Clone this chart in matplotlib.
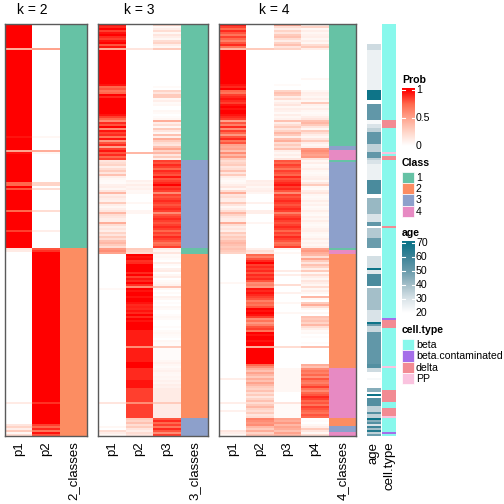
import numpy as np
import matplotlib as mpl
import matplotlib.pyplot as plt
from matplotlib.colors import LinearSegmentedColormap, ListedColormap
from matplotlib.patches import Rectangle

mpl.use("Agg")
plt.rcParams["font.family"] = ["Liberation Sans", "DejaVu Sans"]

N_ROWS = 206
nan = np.nan

# ---- k = 2 ----
K2_CLASS = [1] * 112 + [2] * 94
K2_P1 = ([1.0] * 12 + [0.45] + [1.0] * 43 + [0.95] + [1.0] * 6 + [0.5, 0.95]
         + [1.0] * 14 + [0.75, 0.75, 1.0, 0.8] + [1.0] * 10 + [0.75] + [1.0] * 9
         + [0.85] + [1.0] * 8
         + [0.15, 0.12] + [0.0] * 75 + [0.12] + [0.0] * 10
         + [0.15, 0.25, 0.1, 0.3, 0.05, 0.2])
K2_P2 = ([0.0] * 12 + [0.5] + [0.0] * 43 + [0.05] + [0.0] * 6 + [0.45, 0.05]
         + [0.0] * 14 + [0.25, 0.25, 0.0, 0.2] + [0.0] * 10 + [0.2] + [0.0] * 9
         + [0.1] + [0.0] * 8
         + [0.8, 0.88] + [1.0] * 75 + [0.88] + [1.0] * 10
         + [0.85, 0.75, 0.9, 0.7, 0.95, 0.8])

# ---- k = 3 ----
K3_CLASS = [1] * 68 + [3] * 44 + [1] * 3 + [2] * 82 + [3] * 9
K3_P1 = ([0.95, 0.9, 1, 0.85, 0.95, 1, 0.9, 0.85, 0.95, 1, 0.8, 0.95]
         + [0.45] + [1.0] * 17 + [0.95, 0.75, 0.8] + [0.7, 0.75, 1.0, 0.9]
         + [1, 1, 1, 1, 1, 1, 1, 1, 0.95, 0.85, 0.75]
         + [0.6, 0.9, 0.8, 1.0, 0.6, 0.95, 0.85, 0.9, 0.7, 0.95, 0.55, 0.8,
            0.9, 0.5, 0.85, 0.95, 0.8, 0.9, 0.75, 0.85]
         + [0.15, 0.2, 0.25, 0.1, 0.2, 0.3, 0.15, 0.35, 0.1, 0.05,
            0.03, 0.02, 0.08, 0.1, 0.05, 0.15, 0.4, 0.1, 0.15, 0.1,
            0.08, 0.3, 0.1, 0.05, 0.1, 0.15, 0.4, 0.2, 0.15, 0.1,
            0.1, 0.45, 0.2, 0.1, 0.15, 0.1, 0.25, 0.15, 0.3, 0.2,
            0.35, 0.4, 0.3, 0.2]
         + [0.55, 0.6, 0.5]
         + [0.0] * 17 + [0.04] + [0.0] * 56 + [0.15] + [0.0] * 7
         + [0.0, 0.0, 0.0, 0.0, 0.05, 0.0, 0.2, 0.1, 0.05])
K3_P2 = ([0.0] * 12 + [0.15] + [0.0] * 51 + [0.4] + [0.0] * 3
         + [0.0] * 10 + [0.08, 0.05, 0.1, 0.06, 0.08, 0.04, 0.05] + [0.0] * 4
         + [0.05] + [0.0] * 3 + [0.06, 0.06] + [0.0] * 17
         + [0.3, 0.25, 0.2]
         + [1.0, 0.95, 0.98] + [0.88, 0.9] + [1.0] * 4
         + [0.9, 1.0, 0.85, 0.95, 0.9, 1.0, 0.88] + [0.6]
         + [1.0, 0.95, 1.0, 1.0, 0.95, 1.0, 1.0, 0.95]
         + [0.9, 0.92, 0.9, 0.95, 0.9] + [1.0, 0.9, 1.0, 0.95, 1.0]
         + [1.0] * 3 + [0.93] * 8 + [0.6] + [0.93] * 7 + [1.0] * 3
         + [0.9] * 6 + [0.95] * 4 + [0.85] * 7 + [0.6] + [0.85] * 7
         + [0.3, 0.25, 0.35, 0.2, 0.3, 0.15, 0.1, 0.2, 0.15])
K3_P3 = ([0.25, 0.05, 0.1, 0.2, 0.05, 0.15, 0.1, 0.05, 0.2, 0.25, 0.1, 0.05]
         + [0.3] + [0.0] * 18 + [0.03, 0.0] + [0.25, 0.15, 0.3, 0.3]
         + [0.05, 0.1, 0.03, 0.05, 0.0, 0.0, 0.05, 0.03, 0.0, 0.02, 0.05]
         + [0.45, 0.1, 0.2, 0.05, 0.3, 0.15, 0.05, 0.35, 0.1, 0.45, 0.3, 0.2,
            0.15, 0.35, 0.5, 0.25, 0.4, 0.15, 0.3, 0.1]
         + [0.85, 0.8, 0.9, 0.85, 0.75, 0.9, 0.85, 0.8, 0.95, 0.8,
            0.85, 0.9, 1.0, 0.85, 0.9, 0.85, 0.6, 0.85, 0.8, 0.85,
            0.9, 0.85, 0.8, 0.85, 0.9, 0.85, 0.6, 0.8, 0.85, 0.9,
            0.85, 0.8, 0.85, 0.9, 0.85, 0.75, 0.85, 0.8, 0.9, 0.85,
            0.8, 0.7, 0.75, 0.85]
         + [0.1, 0.05, 0.15]
         + [0.03, 0.05, 0.02, 0.0, 0.1, 0.02, 0.0, 0.08, 0.12, 0.0, 0.05, 0.1,
            0.0, 0.03, 0.05, 0.08]
         + [0.35]
         + [0.05, 0.0, 0.03, 0.0, 0.08, 0.05, 0.0, 0.02, 0.0, 0.05, 0.03, 0.0,
            0.0, 0.02, 0.05, 0.03, 0.0, 0.0, 0.0, 0.02, 0.0, 0.03, 0.05, 0.03,
            0.02, 0.0, 0.05, 0.03, 0.02]
         + [0.3]
         + [0.02] * 6 + [0.05, 0.08, 0.05, 0.03, 0.06, 0.08, 0.05, 0.04, 0.06,
                         0.05, 0.08, 0.06, 0.1, 0.08]
         + [0.12] * 7 + [0.3] + [0.12] * 7
         + [0.8, 0.9, 0.75, 0.85, 0.7, 0.9, 0.8, 0.6, 0.85])

# ---- k = 4 ----
K4_CLASS = ([1] * 61 + [3] * 2 + [4] * 5 + [1] * 1 + [3] * 43 + [1] * 1
            + [4] * 2 + [2] * 57 + [4] * 25 + [2] * 4 + [3] * 3 + [4] * 2)
K4_P1 = ([0.95, 0.85, 0.75, 0.9, 0.8, 0.7, 0.85, 0.75, 0.65, 0.8, 0.9, 0.7]
         + [0.4] + [1.0] * 17 + [0.95, 0.9, 1.0] + [0.75, 0.7, 0.85, 0.9]
         + [0.95, 0.9, 0.85, 0.95, 1.0, 0.95, 1.0, 1.0, 0.95, 0.9, 0.85]
         + [0.5, 0.8, 0.65, 0.9, 0.6, 0.85, 0.75, 0.55, 0.8, 0.9, 0.7, 0.8, 0.5]
         + [0.45, 0.5, 0.35, 0.6, 0.4, 0.55, 0.3]
         + [0.2, 0.25, 0.3, 0.15, 0.2, 0.35, 0.15, 0.3, 0.1, 0.05,
            0.03, 0.05, 0.1, 0.15, 0.05, 0.2, 0.45, 0.15, 0.2, 0.1,
            0.1, 0.3, 0.15, 0.05, 0.1, 0.2, 0.4, 0.25, 0.15, 0.1,
            0.1, 0.45, 0.2, 0.1, 0.15, 0.1, 0.3, 0.2, 0.3, 0.25,
            0.35, 0.4, 0.35, 0.3]
         + [0.35, 0.3, 0.25]
         + [0.0] * 14 + [0.05] + [0.0] * 47 + [0.1] + [0.0] * 11 + [0.1]
         + [0.0] * 3 + [0.08] + [0.0] * 9 + [0.15, 0.1, 0.05])
K4_P2 = ([0.0] * 12 + [0.3] + [0.0] * 55
         + [0.0] * 10 + [0.1, 0.08, 0.1, 0.05, 0.08, 0.1, 0.06] + [0.0] * 4
         + [0.08] + [0.0] * 3 + [0.1, 0.1] + [0.0] * 4 + [0.06] + [0.0] * 12
         + [0.1, 0.2, 0.15]
         + [0.75, 0.65, 0.8] + [0.9, 1.0, 0.85, 0.9]
         + [0.85, 0.9, 0.8, 0.9, 0.85, 0.9, 0.8] + [0.6, 0.65, 0.55]
         + [0.95, 0.9, 0.95, 0.9, 0.85, 0.8] + [0.65, 0.75, 0.7, 0.8]
         + [1.0, 0.95, 1.0, 0.95, 0.85] + [0.6, 0.7, 0.55, 0.65, 0.8, 0.85, 0.7]
         + [1.0, 0.95, 1.0, 1.0, 0.95, 1.0, 1.0] + [0.45] + [1.0] * 8
         + [0.75, 0.6]
         + [0.45, 0.35, 0.5, 0.4, 0.3, 0.45, 0.35, 0.5, 0.4, 0.3, 0.25, 0.35,
            0.2, 0.3, 0.15, 0.25, 0.35, 0.2, 0.3, 0.4, 0.25, 0.2, 0.3, 0.15, 0.2]
         + [0.65, 0.6, 0.55, 0.6] + [0.4, 0.3, 0.45, 0.25, 0.35])
K4_P3 = ([0.5, 0.2, 0.1, 0.25, 0.15, 0.3, 0.35, 0.2, 0.1, 0.25, 0.35, 0.15]
         + [0.25] + [0.0] * 17 + [0.03, 0.0, 0.0] + [0.25, 0.35, 0.3, 0.1]
         + [0.2, 0.05, 0.1, 0.15, 0.05, 0.1, 0.08, 0.03, 0.1, 0.05, 0.08]
         + [0.35, 0.1, 0.2, 0.3, 0.15, 0.25, 0.4, 0.3, 0.1, 0.35, 0.45, 0.2, 0.3]
         + [0.2, 0.35, 0.1, 0.05, 0.1, 0.05, 0.15]
         + [0.8, 0.75, 0.85, 0.8, 0.7, 0.85, 0.8, 0.75, 0.9, 0.8,
            0.85, 0.9, 0.95, 0.85, 0.9, 0.8, 0.6, 0.85, 0.8, 0.85,
            0.9, 0.85, 0.8, 0.85, 0.9, 0.85, 0.65, 0.8, 0.85, 0.9,
            0.85, 0.8, 0.85, 0.9, 0.85, 0.75, 0.85, 0.8, 0.9, 0.85,
            0.8, 0.7, 0.75, 0.85]
         + [0.05, 0.0, 0.05]
         + [0.0] * 8 + [0.12] + [0.0] + [0.1] + [0.0] * 4 + [0.2] + [0.0] * 3
         + [0.08] + [0.0] * 4 + [0.05] + [0.0] * 4 + [0.05] + [0.0] * 16
         + [0.2] + [0.0] * 10 + [0.05] * 12 + [0.0] * 5 + [0.15] + [0.03] * 7
         + [0.5, 0.45, 0.55, 0.4, 0.5, 0.45, 0.35, 0.5, 0.4])
K4_P4 = ([0.1, 0.25, 0.05, 0.1, 0.05, 0.08, 0.1, 0.05, 0.1, 0.05, 0.2, 0.3]
         + [0.1] + [0.0] * 14 + [0.05] + [0.0] * 5 + [0.05, 0.1, 0.08, 0.05]
         + [0.1, 0.05, 0.3, 0.08, 0.05, 0.1, 0.05, 0.03, 0.05, 0.1, 0.15]
         + [0.35, 0.4, 0.3, 0.15, 0.05, 0.3, 0.2, 0.1, 0.05, 0.15, 0.3, 0.1, 0.05]
         + [0.1, 0.55, 0.6, 0.55, 0.5, 0.55, 0.15]
         + [0.05, 0.1, 0.03, 0.05, 0.1, 0.05, 0.03, 0.05, 0.08, 0.1,
            0.05, 0.15, 0.3, 0.05, 0.03, 0.1, 0.15, 0.05, 0.03, 0.05,
            0.1, 0.05, 0.08, 0.03, 0.05, 0.1, 0.05, 0.03, 0.08, 0.05,
            0.1, 0.05, 0.03, 0.05, 0.08, 0.1, 0.05, 0.03, 0.05, 0.1,
            0.05, 0.08, 0.05, 0.1]
         + [0.5, 0.55, 0.45]
         + [0.4, 0.2, 0.5, 0.3, 0.15, 0.35, 0.25, 0.1, 0.3, 0.05,
            0.2, 0.1, 0.05, 0.15, 0.1, 0.05, 0.2, 0.05, 0.1, 0.05,
            0.0, 0.4, 0.05, 0.0, 0.3, 0.45, 0.2, 0.05, 0.0, 0.05,
            0.0, 0.35, 0.3, 0.35, 0.25, 0.4, 0.2, 0.1, 0.03, 0.05,
            0.0, 0.02, 0.0, 0.0, 0.02, 0.0, 0.35, 0.0, 0.0, 0.0,
            0.0, 0.0, 0.0, 0.0, 0.0, 0.45, 0.35]
         + [0.6, 0.7, 0.65, 0.75, 0.6, 0.8, 0.7, 0.65, 0.75, 0.85, 0.7, 0.6,
            0.75, 0.8, 0.9, 0.85, 0.75, 0.8, 0.7, 0.85, 0.8, 0.75, 0.7, 0.8, 0.75]
         + [0.0, 0.02, 0.0, 0.05] + [0.1, 0.3, 0.15, 0.05, 0.2])

# ---- annotations ----
AGE = ([nan] * 10 + [32] * 3 + [25] * 20 + [70] * 5 + [nan] * 2 + [52] * 8
       + [22] * 2 + [30] * 2 + [35] * 2 + [52] * 6 + [35] * 4 + [52] * 3
       + [35] + [30] * 2 + [25] * 8 + [57] * 7 + [nan] * 2 + [42] * 8
       + [30] * 4 + [52] * 2 + [nan] + [37] * 5 + [50] * 5 + [nan] * 4
       + [31] * 6 + [70] + [28] * 2 + [57] * 6 + [nan] + [40] * 11 + [30] * 6
       + [70] + [50] + [33] * 3 + [52] * 16 + [55] * 2 + [32] * 2 + [nan] * 3
       + [22] + [nan] * 4 + [45] * 2 + [nan] + [70] + [nan] + [55] * 4
       + [35] * 3 + [55] + [35] * 2 + [70]
       + [45, 55, 30, 60, 40, 65, 35, 50])
CELL_TYPES = ["beta", "beta.contaminated", "delta", "PP"]
CELL_RUNS = [("beta", 48), ("delta", 4), ("beta", 12), ("PP", 1), ("beta", 1),
             ("delta", 2), ("beta", 33), ("delta", 1), ("beta", 45),
             ("beta.contaminated", 1), ("delta", 4), ("beta", 19), ("PP", 1),
             ("beta", 11), ("delta", 6), ("beta", 3), ("delta", 4), ("PP", 1),
             ("beta", 7), ("beta.contaminated", 1), ("beta", 1)]

CLASS_COLORS = ["#66C2A5", "#FC8D62", "#8DA0CB", "#E78AC3"]
CELL_COLORS = ["#88F8EC", "#A56EE9", "#F28B93", "#FAC3DF"]
PROB_CMAP = LinearSegmentedColormap.from_list(
    "prob", [(0, "#FFFFFF"), (0.25, "#FFD5C8"), (0.5, "#FFA48E"),
             (0.75, "#FF6A4E"), (1, "#FF0000")])
AGE_CMAP = LinearSegmentedColormap.from_list(
    "age", [(0, "#FFFFFF"), (0.2, "#D9E3E8"), (0.4, "#A4BFC9"),
            (0.6, "#6A9CAC"), (0.8, "#3E8498"), (1, "#0E7488")])
AGE_CMAP.set_bad("white")

W = H = 504


def px_axes(fig, x0, y0, x1, y1):
    return fig.add_axes([x0 / W, 1 - y1 / H, (x1 - x0) / W, (y1 - y0) / H])


def draw_panel(fig, box, probs, classes, k):
    for p in probs:
        assert len(p) == N_ROWS, len(p)
    assert len(classes) == N_ROWS, len(classes)
    ax = px_axes(fig, *box)
    mat = np.column_stack(probs)
    ext = (-0.5, k - 0.5, N_ROWS - 0.5, -0.5)
    ax.imshow(mat, cmap=PROB_CMAP, vmin=0, vmax=1, aspect="auto",
              interpolation="nearest", extent=ext)
    ax.imshow(np.array(classes)[:, None], cmap=ListedColormap(CLASS_COLORS),
              vmin=0.5, vmax=4.5, aspect="auto", interpolation="nearest",
              extent=(k - 0.5, k + 0.5, N_ROWS - 0.5, -0.5))
    ax.set_xlim(-0.5, k + 0.5)
    ax.set_ylim(N_ROWS - 0.5, -0.5)
    ax.set_yticks([])
    ax.set_xticks(range(k + 1))
    ax.set_xticklabels([f"p{i + 1}" for i in range(k)] + [f"{k}_classes"],
                       rotation=90, fontsize=9.5)
    ax.tick_params(axis="x", length=0, pad=4)
    for s in ax.spines.values():
        s.set_color("#5a5a5a")
        s.set_linewidth(1.0)
    ax.text((k - 1) / 2, 1.034, f"k = {k}", transform=ax.get_xaxis_transform(),
            ha="center", va="center", fontsize=10)
    return ax


def main():
    fig = plt.figure(figsize=(5.04, 5.04), dpi=100)

    draw_panel(fig, (5, 24, 87, 436), [K2_P1, K2_P2], K2_CLASS, 2)
    draw_panel(fig, (98, 24, 208, 436), [K3_P1, K3_P2, K3_P3], K3_CLASS, 3)
    draw_panel(fig, (219, 24, 356, 436), [K4_P1, K4_P2, K4_P3, K4_P4],
               K4_CLASS, 4)

    # age annotation
    assert len(AGE) == N_ROWS, len(AGE)
    ax_age = px_axes(fig, 367, 24, 381, 436)
    ax_age.imshow(np.ma.masked_invalid(np.array(AGE, dtype=float))[:, None],
                  cmap=AGE_CMAP, vmin=20, vmax=70, aspect="auto",
                  interpolation="nearest")
    ax_age.set_yticks([])
    ax_age.set_xticks([0])
    ax_age.set_xticklabels(["age"], rotation=90, fontsize=9.5)

    # cell type annotation
    cells = []
    for name, n in CELL_RUNS:
        cells += [CELL_TYPES.index(name)] * n
    assert len(cells) == N_ROWS, len(cells)
    ax_ct = px_axes(fig, 382, 24, 396, 436)
    ax_ct.imshow(np.array(cells)[:, None], cmap=ListedColormap(CELL_COLORS),
                 vmin=-0.5, vmax=3.5, aspect="auto", interpolation="nearest")
    ax_ct.set_yticks([])
    ax_ct.set_xticks([0])
    ax_ct.set_xticklabels(["cell.type"], rotation=90, fontsize=9.5)
    for a in (ax_age, ax_ct):
        a.tick_params(axis="x", length=0, pad=4)
        for s in a.spines.values():
            s.set_visible(False)

    # legends drawn in pixel space
    lg = fig.add_axes([0, 0, 1, 1])
    lg.set_xlim(0, W)
    lg.set_ylim(H, 0)
    lg.axis("off")
    fs = 7.6
    tx = 416

    lg.text(402, 80, "Prob", fontsize=fs, fontweight="bold", va="center")
    ys = np.linspace(88, 147, 120)
    grad = np.clip((146 - ys) / 56, 0, 1)[:, None]
    lg.imshow(grad, cmap=PROB_CMAP, vmin=0, vmax=1, aspect="auto",
              extent=(402, 415, 147, 88), interpolation="bilinear")
    for lab, y in [("1", 90), ("0.5", 118), ("0", 146)]:
        lg.text(tx, y, lab, fontsize=fs, va="center")
        lg.plot([402, 405], [y, y], color="white", lw=0.8)
        lg.plot([412, 415], [y, y], color="white", lw=0.8)

    lg.text(402, 163, "Class", fontsize=fs, fontweight="bold", va="center")
    for i, c in enumerate(CLASS_COLORS):
        lg.add_patch(Rectangle((402, 172 + 11.2 * i), 12, 11.2, facecolor=c,
                               edgecolor="white", lw=0.5))
        lg.text(tx, 178 + 11.2 * i, str(i + 1), fontsize=fs, va="center")

    lg.text(402, 233, "age", fontsize=fs, fontweight="bold", va="center")
    ys = np.linspace(241, 316, 150)
    grad = (20 + (313 - ys) / 1.4)[:, None]
    lg.imshow(grad, cmap=AGE_CMAP, vmin=20, vmax=70, aspect="auto",
              extent=(402, 415, 316, 241), interpolation="bilinear")
    for v in [70, 60, 50, 40, 30, 20]:
        y = 313 - (v - 20) * 1.4
        lg.text(tx, y, str(v), fontsize=fs, va="center")
        lg.plot([402, 405], [y, y], color="white", lw=0.8)
        lg.plot([412, 415], [y, y], color="white", lw=0.8)

    lg.text(402, 330, "cell.type", fontsize=fs, fontweight="bold", va="center")
    for i, (name, c) in enumerate(zip(CELL_TYPES, CELL_COLORS)):
        lg.add_patch(Rectangle((402, 339 + 11.3 * i), 12, 11.3, facecolor=c,
                               edgecolor="white", lw=0.5))
        lg.text(tx, 345 + 11.3 * i, name, fontsize=fs, va="center")

    plt.savefig("out.png", dpi=100)


if __name__ == "__main__":
    main()
